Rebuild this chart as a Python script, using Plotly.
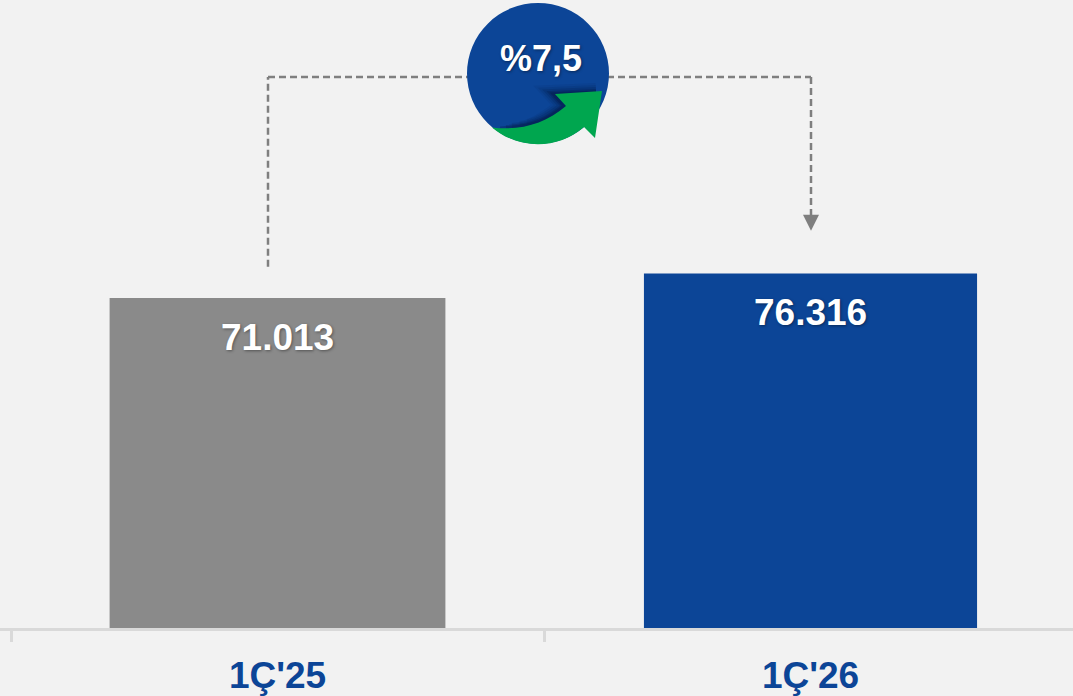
import plotly.graph_objects as go

categories = ["1Ç'25", "1Ç'26"]
values = [71013, 76316]
value_labels = ["71.013", "76.316"]
bar_colors = ["#8a8a8a", "#0c4597"]
growth_label = "%7,5"

W, H = 1073, 696
BASE = 628.5
SCALE = 0.00465
FONT = "Liberation Sans, Arial, sans-serif"
SHADOW = "1px 1px 3px rgba(0,0,0,0.4)"


def px(x):
    return x / W


def py(y):
    return (BASE - y) / BASE


def path(d):
    out = []
    for tok in d.split():
        if "," in tok:
            a, b = tok.split(",")
            out.append(f"{px(float(a)):.5f},{py(float(b)):.5f}")
        else:
            out.append(tok)
    return " ".join(out)


def line(x0, y0, x1, y1):
    return dict(type="line", xref="paper", yref="paper", x0=px(x0), y0=py(y0), x1=px(x1), y1=py(y1),
                line=dict(color="#7f7f7f", width=2.5, dash="7px,4px"))


arrow = "M 492,127.5 C 518.5,150 558,150 584,127 L 595,138 L 602,91 L 555,94 L 566,106 C 545,124 520,131 492,127.5 Z"
shapes = [
    line(268, 267, 268, 77),
    line(268, 77, 470, 77),
    line(607, 77, 811, 77),
    line(811, 77, 811, 216),
    dict(type="path", xref="paper", yref="paper", line=dict(width=0), fillcolor="#7f7f7f",
         path=path("M 803,215 L 819,215 L 811,231 Z")),
    dict(type="circle", xref="paper", yref="paper", x0=px(467), x1=px(609), y0=py(144), y1=py(3),
         fillcolor="#0c4597", line=dict(width=0)),
]
for w, op, x0 in [(18, 0.07, 528), (14, 0.10, 520), (10, 0.14, 512), (6, 0.2, 506), (3, 0.25, 500)]:
    shapes.append(dict(type="path", xref="paper", yref="paper", fillcolor="rgba(0,0,0,0)",
                       line=dict(color=f"rgba(3,15,50,{op})", width=w),
                       path=path(f"M {x0},128 C 535,127 550,118 564,106 L 553,94 L 596,92")))
shapes.append(dict(type="path", xref="paper", yref="paper", line=dict(width=0), fillcolor="#00a64f", path=path(arrow)))

fig = go.Figure(go.Bar(x=categories, y=values, marker=dict(color=bar_colors, line=dict(width=0)), width=[0.63, 0.625]))

annotations = [
    dict(x=c, y=v, xref="x", yref="y", text=t, showarrow=False, yanchor="top", yshift=-17,
         font=dict(family=FONT, size=37, color="white", weight="bold", shadow=SHADOW))
    for c, v, t in zip(categories, values, value_labels)
]
annotations.append(dict(x=px(541), y=py(59), xref="paper", yref="paper", yanchor="middle", xanchor="center",
                        text=growth_label, showarrow=False,
                        font=dict(family=FONT, size=36, color="white", weight="bold", shadow=SHADOW)))

fig.update_layout(
    width=W, height=H, autosize=False,
    margin=dict(l=0, r=0, t=0, b=H - BASE),
    paper_bgcolor="#f2f2f2", plot_bgcolor="#f2f2f2",
    showlegend=False, shapes=shapes, annotations=annotations,
    xaxis=dict(type="category", range=[(0 - 277.5) / 533, (W - 277.5) / 533], tickson="boundaries",
               ticks="outside", ticklen=11, tickwidth=2.5, tickcolor="#d9d9d9", showline=True,
               linecolor="#d9d9d9", linewidth=3, showgrid=False,
               tickfont=dict(family=FONT, size=37, color="#0c4597", weight="bold"), ticklabelstandoff=13),
    yaxis=dict(visible=False, range=[0, BASE / SCALE]),
)
fig.write_html("out.html", config=dict(displayModeBar=False),
               post_script="document.body.style.margin='0';document.body.style.overflow='hidden';document.body.style.background='#f2f2f2';")
